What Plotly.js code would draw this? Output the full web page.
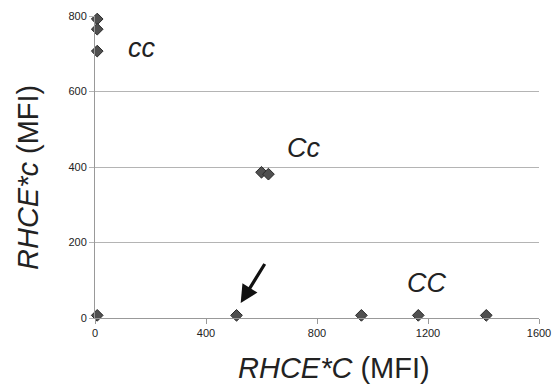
<!DOCTYPE html>
<html>
<head>
<meta charset="utf-8">
<script src="https://cdn.plot.ly/plotly-3.0.1.min.js"></script>
<style>html,body{margin:0;padding:0;background:#fff;}#chart{width:557px;height:388px;}</style>
</head>
<body>
<div id="chart"></div>
<script>
const xValues = [8, 8, 8, 600, 625, 8, 510, 960, 1165, 1410];
const yValues = [792, 765, 707, 386, 381, 7, 7, 7, 7, 7];
const groupLabels = ["cc", "Cc", "CC"];
const groupLabelX = [170, 750, 1195];
const groupLabelY = [715, 450, 93];
const xTicks = [0, 400, 800, 1200, 1600];
const yTicks = [0, 200, 400, 600, 800];
const xTitle = "<i>RHCE*C</i> (MFI)";
const yTitle = "<i>RHCE*c</i> (MFI)";

const fontFam = "Liberation Sans, Arial, Helvetica, sans-serif";
// plot area in pixels: left 95, right 539, top 16, bottom 318
const PL = 95, PW = 444, PB = 318, PH = 302;

const annotations = groupLabels.map((t, i) => ({
  x: groupLabelX[i], y: groupLabelY[i], xref: 'x', yref: 'y',
  text: '<i>' + t + '</i>', showarrow: false,
  font: {family: fontFam, size: 27, color: '#222'}
}));
annotations.push({
  x: 525, y: 40, ax: 615, ay: 147, xref: 'x', yref: 'y', axref: 'x', ayref: 'y',
  text: '', showarrow: true, arrowhead: 2, arrowsize: 1.1, arrowwidth: 3.2, arrowcolor: '#111'
});
annotations.push({
  x: (334 - PL) / PW, y: (PB - 368) / PH, xref: 'paper', yref: 'paper',
  xanchor: 'center', yanchor: 'middle', showarrow: false,
  text: xTitle, font: {family: fontFam, size: 29, color: '#222'}
});
annotations.push({
  x: (28 - PL) / PW, y: (PB - 178) / PH, xref: 'paper', yref: 'paper',
  xanchor: 'center', yanchor: 'middle', showarrow: false, textangle: -90,
  text: yTitle, font: {family: fontFam, size: 29, color: '#222'}
});

Plotly.newPlot('chart', [{
  x: xValues, y: yValues, type: 'scatter', mode: 'markers', cliponaxis: false,
  marker: {symbol: 'diamond', size: 9, color: '#505050', line: {color: '#2a2a2a', width: 1}}
}], {
  width: 557, height: 388,
  margin: {l: 95, r: 18, t: 16, b: 70},
  paper_bgcolor: '#fff', plot_bgcolor: '#fff',
  showlegend: false,
  font: {family: fontFam, color: '#222'},
  xaxis: {
    range: [0, 1600], tickvals: xTicks, ticktext: xTicks.map(String),
    showgrid: false, zeroline: false, showline: true, linecolor: '#999', linewidth: 1,
    ticks: 'outside', ticklen: 5, tickcolor: '#999',
    tickfont: {size: 11, color: '#222'}
  },
  yaxis: {
    range: [0, 800], tickvals: yTicks, ticktext: yTicks.map(String),
    showgrid: true, gridcolor: '#b4b4b4', gridwidth: 1,
    zeroline: false, showline: true, linecolor: '#999', linewidth: 1,
    ticks: 'outside', ticklen: 5, tickcolor: '#b4b4b4',
    tickfont: {size: 11, color: '#222'}
  },
  annotations: annotations
}, {displayModeBar: false, staticPlot: true});
</script>
</body>
</html>
